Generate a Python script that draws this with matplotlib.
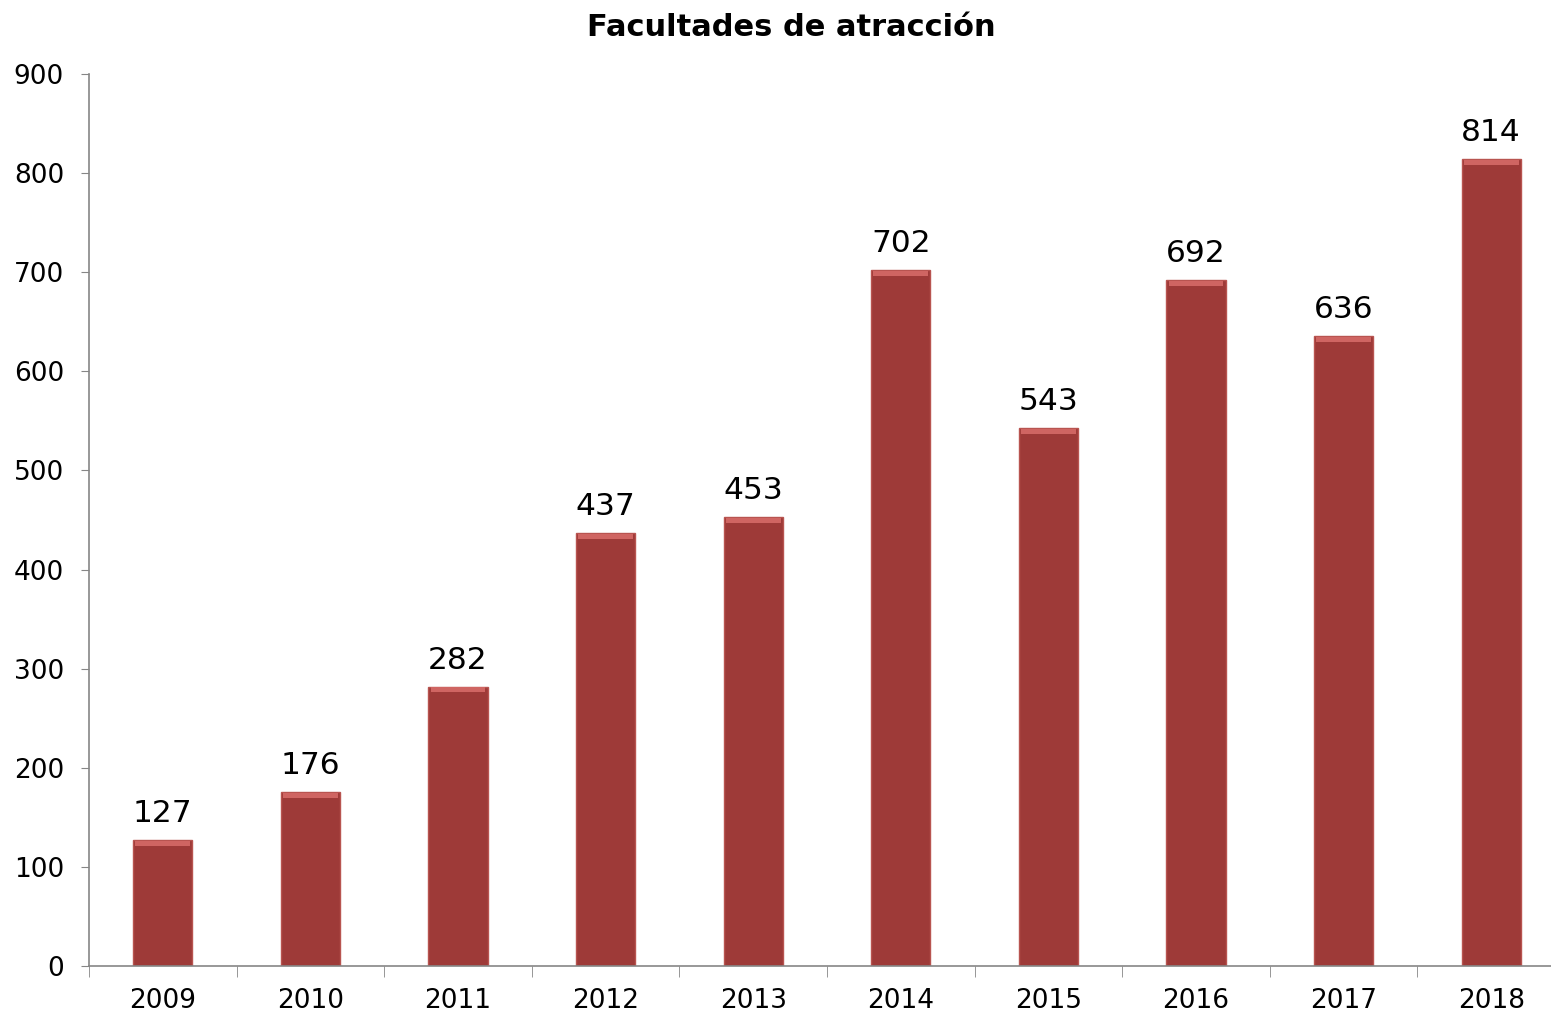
import numpy as np
import matplotlib
matplotlib.use("Agg")
import matplotlib.pyplot as plt

years = ["2009", "2010", "2011", "2012", "2013", "2014", "2015", "2016", "2017", "2018"]
values = [127, 176, 282, 437, 453, 702, 543, 692, 636, 814]

bar_color = "#9E3A38"
axis_color = "#868686"

fig = plt.figure(figsize=(15.51, 10.14), dpi=100)
ax = fig.add_axes([89 / 1551, 48 / 1014, 1 - 89 / 1551, (966 - 74) / 1014])

x = np.arange(len(years))
ax.bar(x, values, width=0.4, color=bar_color, edgecolor="#B85450", linewidth=1.0, zorder=2)
# light bevel along the top of each bar
ax.bar(x, [5] * len(values), width=0.37, bottom=np.array(values) - 6,
       color="#CF6562", linewidth=0, zorder=3)

for xi, v in zip(x, values):
    ax.text(xi, v + 12, str(v), ha="center", va="bottom", fontsize=22.5, color="black")

ax.set_yticks(range(0, 901, 100))
ax.set_xticks(x)
ax.set_xticklabels(years)
ax.set_xticks(np.arange(-0.5, 10, 1), minor=True)
ax.set_xlim(-0.5, -0.5 + (1551 - 89) / 147.6)
ax.set_ylim(0, 900)

for side in ["top", "right"]:
    ax.spines[side].set_visible(False)
for side in ["left", "bottom"]:
    ax.spines[side].set_color(axis_color)
    ax.spines[side].set_linewidth(1.2)

ax.tick_params(axis="y", which="major", length=6, color=axis_color, labelsize=19, pad=12)
ax.tick_params(axis="x", which="major", length=0, labelsize=19, pad=16)
ax.tick_params(axis="x", which="minor", length=8, color=axis_color)

fig.text(0.5105, 0.973, "Facultades de atracción", ha="center", va="center",
         fontsize=22, fontweight="bold")

fig.savefig("out.png", dpi=100)
